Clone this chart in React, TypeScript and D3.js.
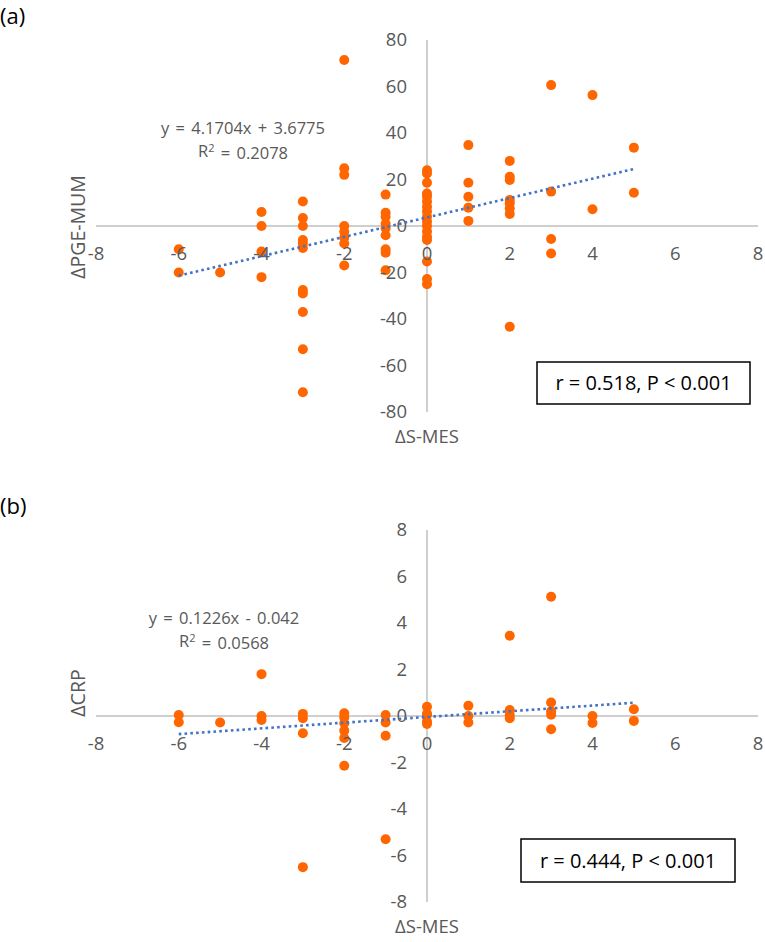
import React from 'react';
import * as d3 from 'd3';

// panel (a): ΔS-MES vs ΔPGE-MUM
const sMesA = [
  -6, -6,
  -5,
  -4, -4, -4, -4,
  -3, -3, -3, -3, -3, -3, -3, -3, -3, -3, -3,
  -2, -2, -2, -2, -2, -2, -2, -2,
  -1, -1, -1, -1, -1, -1, -1, -1, -1,
  0, 0, 0, 0, 0, 0, 0, 0, 0, 0, 0, 0, 0, 0, 0, 0, 0,
  1, 1, 1, 1, 1,
  2, 2, 2, 2, 2, 2, 2, 2,
  3, 3, 3, 3,
  4, 4,
  5, 5,
];
const pgeMum = [
  -10, -20,
  -20,
  6, 0, -11, -22,
  10.5, 3.4, 0, -6, -7.5, -9.5, -27.5, -29, -37, -53, -71.5,
  71.4, 24.8, 22, 0, -2.5, -5, -7.5, -17,
  13.5, 5.7, 4, 1, -1, -4, -10, -11.5, -19,
  24, 22.6, 18.6, 14, 12.6, 10.5, 8.3, 6.2, 4, 1.9, 0, -2.4, -4.6, -6, -15.3, -22.8, -25,
  34.8, 18.6, 12.6, 7.9, 2.2,
  28, 21.2, 19.8, 11.2, 9.8, 7.6, 5.2, -43.3,
  60.6, 14.8, -5.6, -11.8,
  56.3, 7.2,
  33.7, 14.3,
];

// panel (b): ΔS-MES vs ΔCRP
const sMesB = [
  -6, -6,
  -5,
  -4, -4, -4,
  -3, -3, -3, -3,
  -2, -2, -2, -2, -2, -2,
  -1, -1, -1, -1,
  0, 0, 0, 0, 0,
  1, 1, 1,
  2, 2, 2, 2,
  3, 3, 3, 3, 3,
  4, 4,
  5, 5,
];
const crp = [
  0.04, -0.27,
  -0.28,
  1.8, 0, -0.17,
  0.09, -0.1, -0.74, -6.5,
  0.12, -0.06, -0.31, -0.63, -0.95, -2.14,
  0.04, -0.28, -0.85, -5.3,
  0.4, 0.1, 0.04, -0.24, -0.34,
  0.44, 0, -0.28,
  3.45, 0.26, 0.04, -0.1,
  5.13, 0.58, 0.2, 0.05, -0.57,
  0, -0.3,
  0.29, -0.21,
];

const xTicks = [-8, -6, -4, -2, 0, 2, 4, 6, 8];
const yTicksA = [-80, -60, -40, -20, 0, 20, 40, 60, 80];
const yTicksB = [-8, -6, -4, -2, 0, 2, 4, 6, 8];

const fitA = { slope: 4.1704, intercept: 3.6775, from: -6, to: 5 };
const fitB = { slope: 0.1226, intercept: -0.042, from: -6, to: 5 };

const FONT = "'Open Sans', 'Noto Sans', sans-serif";
const GREY = '#595959';
const AXIS = '#BFBFBF';
const ORANGE = '#FF6600';
const BLUE = '#4472C4';

type PanelProps = {
  top: number;
  label: string;
  xs: number[];
  ys: number[];
  yTicks: number[];
  yTitle: string;
  yTitleY: number;
  fit: { slope: number; intercept: number; from: number; to: number };
  eq: string[];
  eqX: number;
  eqY: number;
  stat: string;
  box: { x: number; y: number; w: number; h: number };
};

function Panel(p: PanelProps) {
  const x = d3.scaleLinear().domain([-8, 8]).range([96, 758]);
  const ymax = p.yTicks[p.yTicks.length - 1];
  const y = d3.scaleLinear().domain([-ymax, ymax]).range([p.top + 412, p.top + 40]);
  const x0 = x(0);
  const y0 = y(0);
  const fitLine = d3.line<number>()
    .x(d => x(d))
    .y(d => y(p.fit.slope * d + p.fit.intercept));

  return (
    <g fontFamily={FONT}>
      <text x={0} y={p.top + 24} fontSize={22} fill="#000">{p.label}</text>

      {/* axes */}
      <line x1={x(-8)} x2={x(8)} y1={y0} y2={y0} stroke={AXIS} strokeWidth={1.5} />
      <line x1={x0} x2={x0} y1={y(ymax)} y2={y(-ymax)} stroke={AXIS} strokeWidth={1.5} />

      {/* points */}
      {p.xs.map((d, i) => (
        <circle key={i} cx={x(d)} cy={y(p.ys[i])} r={5} fill={ORANGE} />
      ))}

      {/* tick labels */}
      {p.yTicks.map(t => (
        <text key={'y' + t} x={407} y={y(t)} dy="0.35em" textAnchor="end" fontSize={18.5} fill={GREY}>{t}</text>
      ))}
      {xTicks.map(t => (
        <text key={'x' + t} x={x(t)} y={y0 + 28} dy="0.35em" textAnchor="middle" fontSize={18.5} fill={GREY}>{t}</text>
      ))}

      {/* trendline */}
      <path d={fitLine([p.fit.from, p.fit.to]) || ''} fill="none" stroke={BLUE}
        strokeWidth={2.6} strokeDasharray="2.6 3.2" />

      {/* equation */}
      {p.eq.map((s, i) => (
        <text key={'eq' + i} x={p.eqX} y={p.eqY + i * 23} dy="0.35em" textAnchor="middle" fontSize={16.5} wordSpacing={2} fill={GREY}>
          {i === 1 ? (<>R<tspan dy="-0.4em" fontSize={11}>2</tspan><tspan dy="0.4em">{s}</tspan></>) : s}
        </text>
      ))}

      {/* axis titles */}
      <text x={x0} y={p.top + 437} dy="0.35em" textAnchor="middle" fontSize={18.5} fill={GREY}>ΔS-MES</text>
      <text transform={`translate(78,${p.yTitleY}) rotate(-90)`} dy="0.35em" textAnchor="middle" fontSize={19.5} fill={GREY}>{p.yTitle}</text>

      {/* stats box */}
      <rect x={p.box.x} y={p.box.y} width={p.box.w} height={p.box.h} fill="#fff" stroke="#000" strokeWidth={1.5} />
      <text x={p.box.x + p.box.w / 2} y={p.box.y + p.box.h / 2} dy="0.35em" textAnchor="middle" fontSize={20} fill="#000">{p.stat}</text>
    </g>
  );
}

export default function App() {
  return (
    <svg width={765} height={942} style={{ position: 'absolute', left: 0, top: 0, background: '#fff' }}>
      <Panel
        top={0}
        label="(a)"
        xs={sMesA}
        ys={pgeMum}
        yTicks={yTicksA}
        yTitle="ΔPGE-MUM"
        yTitleY={227}
        fit={fitA}
        eq={['y = 4.1704x + 3.6775', ' = 0.2078']}
        eqX={243}
        eqY={128}
        stat="r = 0.518, P < 0.001"
        box={{ x: 537, y: 362, w: 213, h: 42 }}
      />
      <Panel
        top={490}
        label="(b)"
        xs={sMesB}
        ys={crp}
        yTicks={yTicksB}
        yTitle="ΔCRP"
        yTitleY={693}
        fit={fitB}
        eq={['y = 0.1226x - 0.042', ' = 0.0568']}
        eqX={224}
        eqY={618}
        stat="r = 0.444, P < 0.001"
        box={{ x: 521, y: 839, w: 214, h: 43 }}
      />
    </svg>
  );
}
